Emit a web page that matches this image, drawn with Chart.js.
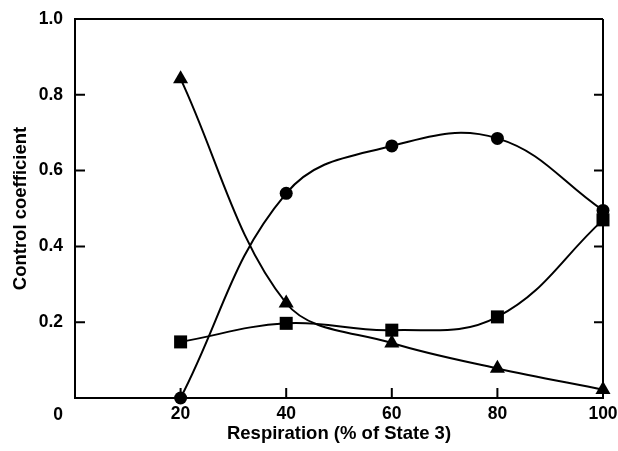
<!DOCTYPE html>
<html>
<head>
<meta charset="utf-8">
<script src="https://cdn.jsdelivr.net/npm/chart.js@4"></script>
<style>
  html, body { margin: 0; padding: 0; background: #fff; }
  #wrap { width: 618px; height: 451px; }
</style>
</head>
<body>
<div id="wrap"><canvas id="c"></canvas></div>
<script>
const xValues = [20, 40, 60, 80, 100];
const circleValues = [0.00, 0.54, 0.665, 0.685, 0.495];
const squareValues = [0.148, 0.197, 0.179, 0.214, 0.47];
const triangleValues = [0.842, 0.25, 0.145, 0.078, 0.022];
const xTickValues = [20, 40, 60, 80, 100];
const yTickValues = [0.2, 0.4, 0.6, 0.8, 1.0];
const xTitle = 'Respiration (% of State 3)';
const yTitle = 'Control coefficient';
const originLabel = '0';

const FONT = '"Liberation Sans", Arial, sans-serif';

function pts(vals) { return xValues.map((x, i) => ({ x: x, y: vals[i] })); }

const frame = {
  id: 'frame',
  afterDatasetsDraw(chart) {
    const { ctx, chartArea: a, scales: { x, y } } = chart;
    ctx.save();
    ctx.strokeStyle = '#000';
    ctx.lineWidth = 2;
    ctx.beginPath();
    ctx.moveTo(a.left, a.top); ctx.lineTo(a.right, a.top);
    ctx.moveTo(a.right, a.top); ctx.lineTo(a.right, a.bottom);
    yTickValues.forEach(v => {
      if (v >= 1) return;
      const py = y.getPixelForValue(v);
      ctx.moveTo(a.left, py); ctx.lineTo(a.left + 10, py);
      ctx.moveTo(a.right, py); ctx.lineTo(a.right - 9, py);
    });
    xTickValues.forEach(v => {
      if (v >= 100) return;
      const px = x.getPixelForValue(v);
      ctx.moveTo(px, a.bottom); ctx.lineTo(px, a.bottom - 10);
    });
    ctx.stroke();
    ctx.fillStyle = '#000';
    ctx.font = 'bold 17.5px ' + FONT;
    ctx.textAlign = 'right';
    ctx.textBaseline = 'alphabetic';
    ctx.fillText(originLabel, a.left - 12, 420);
    ctx.restore();
  }
};

const common = {
  showLine: true,
  borderColor: '#000',
  backgroundColor: '#000',
  pointBackgroundColor: '#000',
  pointBorderColor: '#000',
  borderWidth: 2,
  pointBorderWidth: 0,
  clip: false
};

function noPad(s) { s.paddingTop = 0; s.paddingBottom = 0; s.paddingLeft = 0; s.paddingRight = 0; }

new Chart(document.getElementById('c'), {
  type: 'scatter',
  data: {
    datasets: [
      Object.assign({}, common, { label: 'circle', data: pts(circleValues), pointStyle: 'circle', pointRadius: 6.5, tension: 0.4 }),
      Object.assign({}, common, { label: 'square', data: pts(squareValues), pointStyle: 'rect', pointRadius: 9.2, tension: 0.4 }),
      Object.assign({}, common, { label: 'triangle', data: pts(triangleValues), pointStyle: 'triangle', pointRadius: 8.7, tension: 0.35 })
    ]
  },
  options: {
    responsive: true,
    maintainAspectRatio: false,
    animation: false,
    events: [],
    layout: { padding: { top: 19, right: 15, left: 0, bottom: 0 } },
    plugins: { legend: { display: false }, tooltip: { enabled: false } },
    scales: {
      x: {
        type: 'linear',
        min: 0, max: 100,
        afterFit: s => { s.height = 53; noPad(s); },
        afterBuildTicks: s => { s.ticks = xTickValues.map(v => ({ value: v })); },
        grid: { display: false, drawTicks: false },
        border: { display: true, color: '#000', width: 2 },
        ticks: {
          color: '#000', padding: 6, maxRotation: 0, autoSkip: false,
          font: { family: FONT, size: 17.5, weight: 'bold' },
          callback: v => String(v)
        },
        title: {
          display: true, text: xTitle, color: '#000',
          font: { family: FONT, size: 18.5, weight: 'bold' },
          padding: { top: 0, bottom: 6 }
        }
      },
      y: {
        type: 'linear',
        min: 0, max: 1,
        afterFit: s => { s.width = 75; noPad(s); },
        afterBuildTicks: s => { s.ticks = yTickValues.map(v => ({ value: v })); },
        grid: { display: false, drawTicks: false },
        border: { display: true, color: '#000', width: 2 },
        ticks: {
          color: '#000', padding: 12, autoSkip: false,
          font: { family: FONT, size: 17.5, weight: 'bold' },
          callback: v => Number(v).toFixed(1)
        },
        title: {
          display: true, text: yTitle, color: '#000',
          font: { family: FONT, size: 18.5, weight: 'bold' },
          padding: { top: 10, bottom: 0 }
        }
      }
    }
  },
  plugins: [frame]
});
</script>
</body>
</html>
